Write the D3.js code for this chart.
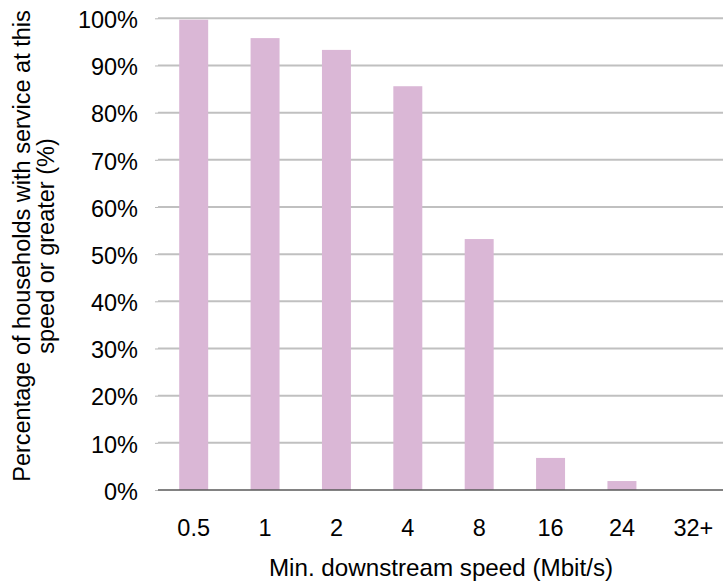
<!DOCTYPE html>
<html>
<head>
<meta charset="utf-8">
<script src="https://cdn.jsdelivr.net/npm/d3@7"></script>
<style>
  html, body { margin: 0; padding: 0; background: #fff; }
  svg { display: block; }
  text { font-family: "Liberation Sans", Arial, sans-serif; fill: #000; }
</style>
</head>
<body>
<svg id="chart" width="723" height="587"></svg>
<script>
// Share of households reachable at each minimum downstream speed
const speeds = ["0.5", "1", "2", "4", "8", "16", "24", "32+"];
const coverage = [99.7, 95.8, 93.3, 85.6, 53.2, 6.8, 1.9, 0];
const yTicks = [0, 10, 20, 30, 40, 50, 60, 70, 80, 90, 100];
const xTitle = "Min. downstream speed (Mbit/s)";
const yTitleLines = ["Percentage of households with service at this", "speed or greater (%)"];

const W = 723, H = 587;
const plotLeft = 158, plotRight = 729, plotTop = 18.3, plotBottom = 490;

const svg = d3.select("#chart");

const x = d3.scaleBand()
  .domain(speeds)
  .range([plotLeft, plotRight])
  .paddingInner(0.594)
  .paddingOuter(0.297);

const y = d3.scaleLinear().domain([0, 100]).range([plotBottom, plotTop]);

// horizontal gridlines (0 is drawn as the axis line below)
svg.append("g")
  .selectAll("line")
  .data(yTicks.filter(d => d > 0))
  .join("line")
  .attr("x1", plotLeft).attr("x2", W)
  .attr("y1", d => y(d)).attr("y2", d => y(d))
  .attr("stroke", "#c0c0c0")
  .attr("stroke-width", 2);

// y axis: short ticks, percentage labels
const yAxis = d3.axisLeft(y)
  .tickValues(yTicks)
  .tickFormat(d => d + "%")
  .tickSize(3)
  .tickPadding(17);
const gy = svg.append("g").attr("transform", `translate(${plotLeft},0)`).call(yAxis);
gy.select(".domain").remove();
gy.selectAll(".tick line").attr("stroke", "#b8b8b8");
gy.selectAll(".tick text")
  .attr("font-size", "23.5px")
  .attr("font-family", "Liberation Sans, Arial, sans-serif")
  .attr("fill", "#000")
  .attr("dy", "0.35em")
  .attr("transform", "translate(0,1)");

// bars
svg.append("g")
  .selectAll("rect")
  .data(speeds.map((s, i) => ({ s, v: coverage[i] })))
  .join("rect")
  .attr("x", d => x(d.s))
  .attr("width", x.bandwidth())
  .attr("y", d => y(d.v))
  .attr("height", d => y(0) - y(d.v))
  .attr("fill", "#dab7d6");

// x axis baseline and category labels
const xAxis = d3.axisBottom(x).tickSize(0).tickPadding(0);
const gx = svg.append("g").attr("transform", `translate(0,${plotBottom})`).call(xAxis);
gx.select(".domain").remove();
gx.selectAll(".tick text")
  .attr("font-size", "23.5px")
  .attr("font-family", "Liberation Sans, Arial, sans-serif")
  .attr("fill", "#000")
  .attr("dy", 0)
  .attr("y", 46);

svg.append("line")
  .attr("x1", plotLeft).attr("x2", W)
  .attr("y1", plotBottom).attr("y2", plotBottom)
  .attr("stroke", "#595959")
  .attr("stroke-width", 1.5);

// axis titles
svg.append("text")
  .attr("x", (269 + 613) / 2)
  .attr("y", 576)
  .attr("text-anchor", "middle")
  .attr("font-size", "24.2px")
  .text(xTitle);

const yTitle = svg.append("g");
const lineCenters = [246, 246];
const lineBaselines = [30, 54];
yTitleLines.forEach((t, i) => {
  yTitle.append("text")
    .attr("transform", `translate(${lineBaselines[i]},${lineCenters[i]}) rotate(-90)`)
    .attr("text-anchor", "middle")
    .attr("font-size", "23.5px")
    .text(t);
});
</script>
</body>
</html>
